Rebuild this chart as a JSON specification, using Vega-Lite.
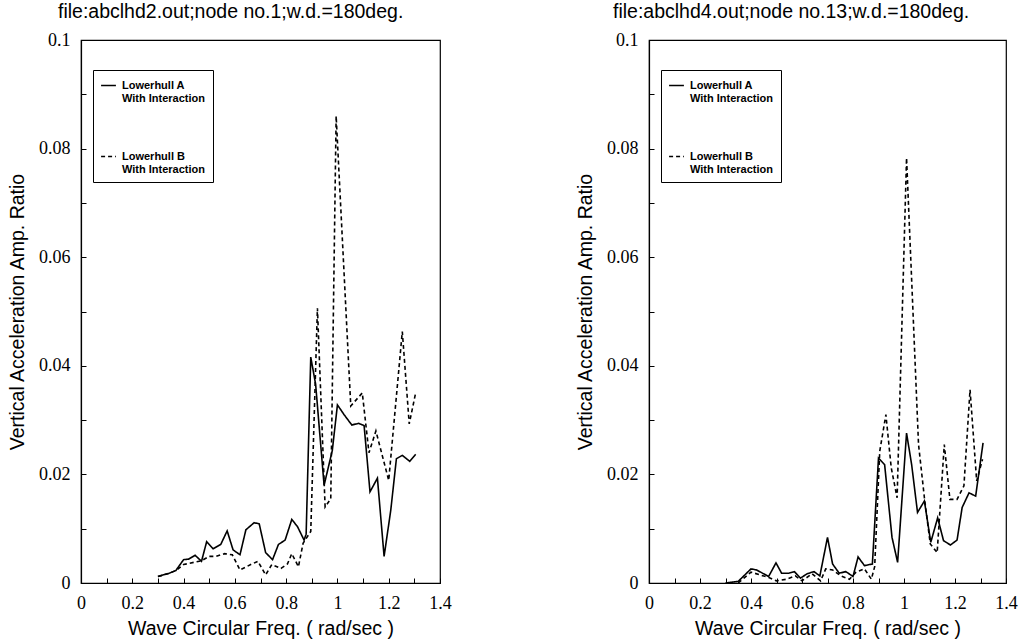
{
  "$schema": "https://vega.github.io/schema/vega-lite/v6.json",
  "padding": {"left": 6, "top": 0, "right": 2, "bottom": 2},
  "spacing": 122,
  "background": "white",
  "config": {
    "view": {"stroke": "black", "strokeWidth": 1.2},
    "legend": {
      "orient": "none",
      "legendX": 12,
      "legendY": 30,
      "strokeColor": "black",
      "strokeWidth": 1,
      "fillColor": "white",
      "padding": 7,
      "symbolType": "stroke",
      "symbolStrokeColor": "black",
      "symbolStrokeWidth": 1.3,
      "symbolSize": 220,
      "labelFont": "Liberation Sans",
      "labelFontSize": 11,
      "labelFontWeight": "bold",
      "labelColor": "black",
      "labelLimit": 200,
      "labelOffset": 5,
      "rowPadding": 44
    }
  },
  "resolve": {"scale": {"x": "independent", "y": "independent", "strokeDash": "independent"}, "legend": {"strokeDash": "independent"}},
  "hconcat": [
    {
      "width": 359,
      "height": 543,
      "title": {"text": "file:abclhd2.out;node no.1;w.d.=180deg.", "frame": "group", "anchor": "start", "dx": -23, "offset": 9, "font": "Liberation Sans", "fontSize": 19.5, "fontWeight": "normal", "color": "black"},
      "data": {"values": [
        {"x": 0.30, "y": 0.0012, "series": "A"},
        {"x": 0.344, "y": 0.0018, "series": "A"},
        {"x": 0.37, "y": 0.0023, "series": "A"},
        {"x": 0.40, "y": 0.0043, "series": "A"},
        {"x": 0.42, "y": 0.0044, "series": "A"},
        {"x": 0.445, "y": 0.0051, "series": "A"},
        {"x": 0.47, "y": 0.0040, "series": "A"},
        {"x": 0.49, "y": 0.0076, "series": "A"},
        {"x": 0.515, "y": 0.0063, "series": "A"},
        {"x": 0.545, "y": 0.0071, "series": "A"},
        {"x": 0.57, "y": 0.0096, "series": "A"},
        {"x": 0.593, "y": 0.0061, "series": "A"},
        {"x": 0.62, "y": 0.0052, "series": "A"},
        {"x": 0.643, "y": 0.0098, "series": "A"},
        {"x": 0.675, "y": 0.0111, "series": "A"},
        {"x": 0.695, "y": 0.0109, "series": "A"},
        {"x": 0.72, "y": 0.0056, "series": "A"},
        {"x": 0.747, "y": 0.0043, "series": "A"},
        {"x": 0.77, "y": 0.0071, "series": "A"},
        {"x": 0.796, "y": 0.0079, "series": "A"},
        {"x": 0.822, "y": 0.0117, "series": "A"},
        {"x": 0.844, "y": 0.0104, "series": "A"},
        {"x": 0.87, "y": 0.0079, "series": "A"},
        {"x": 0.878, "y": 0.0090, "series": "A"},
        {"x": 0.896, "y": 0.0416, "series": "A"},
        {"x": 0.915, "y": 0.0366, "series": "A"},
        {"x": 0.948, "y": 0.0180, "series": "A"},
        {"x": 0.98, "y": 0.0244, "series": "A"},
        {"x": 1.0, "y": 0.0328, "series": "A"},
        {"x": 1.026, "y": 0.0310, "series": "A"},
        {"x": 1.056, "y": 0.0291, "series": "A"},
        {"x": 1.082, "y": 0.0294, "series": "A"},
        {"x": 1.104, "y": 0.0290, "series": "A"},
        {"x": 1.127, "y": 0.0168, "series": "A"},
        {"x": 1.156, "y": 0.0193, "series": "A"},
        {"x": 1.182, "y": 0.0049, "series": "A"},
        {"x": 1.208, "y": 0.0134, "series": "A"},
        {"x": 1.23, "y": 0.0229, "series": "A"},
        {"x": 1.253, "y": 0.0235, "series": "A"},
        {"x": 1.282, "y": 0.0224, "series": "A"},
        {"x": 1.305, "y": 0.0237, "series": "A"},
        {"x": 0.30, "y": 0.0012, "series": "B"},
        {"x": 0.344, "y": 0.0018, "series": "B"},
        {"x": 0.37, "y": 0.0023, "series": "B"},
        {"x": 0.40, "y": 0.0034, "series": "B"},
        {"x": 0.44, "y": 0.0038, "series": "B"},
        {"x": 0.47, "y": 0.0041, "series": "B"},
        {"x": 0.50, "y": 0.0049, "series": "B"},
        {"x": 0.526, "y": 0.0049, "series": "B"},
        {"x": 0.56, "y": 0.0054, "series": "B"},
        {"x": 0.59, "y": 0.0052, "series": "B"},
        {"x": 0.62, "y": 0.0024, "series": "B"},
        {"x": 0.662, "y": 0.0034, "series": "B"},
        {"x": 0.69, "y": 0.0040, "series": "B"},
        {"x": 0.72, "y": 0.0015, "series": "B"},
        {"x": 0.744, "y": 0.0034, "series": "B"},
        {"x": 0.78, "y": 0.0027, "series": "B"},
        {"x": 0.805, "y": 0.0035, "series": "B"},
        {"x": 0.822, "y": 0.0054, "series": "B"},
        {"x": 0.848, "y": 0.0030, "series": "B"},
        {"x": 0.866, "y": 0.0073, "series": "B"},
        {"x": 0.896, "y": 0.0095, "series": "B"},
        {"x": 0.922, "y": 0.0506, "series": "B"},
        {"x": 0.952, "y": 0.0140, "series": "B"},
        {"x": 0.974, "y": 0.0155, "series": "B"},
        {"x": 0.995, "y": 0.0860, "series": "B"},
        {"x": 1.052, "y": 0.0326, "series": "B"},
        {"x": 1.097, "y": 0.0350, "series": "B"},
        {"x": 1.123, "y": 0.0240, "series": "B"},
        {"x": 1.15, "y": 0.0280, "series": "B"},
        {"x": 1.20, "y": 0.0189, "series": "B"},
        {"x": 1.253, "y": 0.0463, "series": "B"},
        {"x": 1.28, "y": 0.0293, "series": "B"},
        {"x": 1.305, "y": 0.0350, "series": "B"}
      ]},
      "mark": {"type": "line", "color": "black", "strokeWidth": 1.6},
      "encoding": {
        "x": {"field": "x", "type": "quantitative", "scale": {"domain": [0, 1.4], "nice": false},
          "axis": {"title": "Wave Circular Freq. ( rad/sec )", "values": [0, 0.1, 0.2, 0.3, 0.4, 0.5, 0.6, 0.7, 0.8, 0.9, 1, 1.1, 1.2, 1.3, 1.4], "format": "~g", "labelExpr": "round(datum.value*10) % 2 == 0 ? datum.label : ''",
            "grid": false, "domainColor": "black", "domainWidth": 1.2, "tickColor": "black", "tickSize": -5, "labelFont": "Liberation Serif", "labelFontSize": 18, "labelColor": "black", "labelFlush": false, "labelOverlap": false, "labelBound": false, "labelPadding": 16, "titleFont": "Liberation Sans", "titleFontSize": 19.5, "titleFontWeight": "normal", "titleColor": "black", "titlePadding": 7}},
        "y": {"field": "y", "type": "quantitative", "scale": {"domain": [0, 0.1], "nice": false},
          "axis": {"title": "Vertical Acceleration Amp. Ratio", "values": [0, 0.01, 0.02, 0.03, 0.04, 0.05, 0.06, 0.07, 0.08, 0.09, 0.1], "format": "~g", "labelExpr": "round(datum.value*100) % 2 == 0 ? datum.label : ''",
            "grid": false, "domainColor": "black", "domainWidth": 1.2, "tickColor": "black", "tickSize": -5, "labelFont": "Liberation Serif", "labelFontSize": 18, "labelColor": "black", "labelFlush": false, "labelOverlap": false, "labelBound": false, "labelPadding": 16, "titleFont": "Liberation Sans", "titleFontSize": 19.5, "titleFontWeight": "normal", "titleColor": "black", "titlePadding": 11}},
        "strokeDash": {"field": "series", "type": "nominal", "scale": {"domain": ["A", "B"], "range": [[1, 0], [4, 3]]},
          "legend": {"title": null, "labelExpr": "datum.value == 'A' ? ['Lowerhull A', 'With Interaction'] : ['Lowerhull B', 'With Interaction']"}}
      }
    },
    {
      "width": 357,
      "height": 543,
      "title": {"text": "file:abclhd4.out;node no.13;w.d.=180deg.", "frame": "group", "anchor": "start", "dx": -36, "offset": 9, "font": "Liberation Sans", "fontSize": 19.5, "fontWeight": "normal", "color": "black"},
      "data": {"values": [
        {"x": 0.30, "y": 0.0, "series": "A"},
        {"x": 0.35, "y": 0.0003, "series": "A"},
        {"x": 0.40, "y": 0.0026, "series": "A"},
        {"x": 0.422, "y": 0.0024, "series": "A"},
        {"x": 0.469, "y": 0.0012, "series": "A"},
        {"x": 0.498, "y": 0.0037, "series": "A"},
        {"x": 0.52, "y": 0.0018, "series": "A"},
        {"x": 0.548, "y": 0.0018, "series": "A"},
        {"x": 0.57, "y": 0.0021, "series": "A"},
        {"x": 0.594, "y": 0.0009, "series": "A"},
        {"x": 0.62, "y": 0.0017, "series": "A"},
        {"x": 0.647, "y": 0.0021, "series": "A"},
        {"x": 0.67, "y": 0.0013, "series": "A"},
        {"x": 0.70, "y": 0.0084, "series": "A"},
        {"x": 0.72, "y": 0.0035, "series": "A"},
        {"x": 0.746, "y": 0.0018, "series": "A"},
        {"x": 0.772, "y": 0.0021, "series": "A"},
        {"x": 0.80, "y": 0.0012, "series": "A"},
        {"x": 0.82, "y": 0.0048, "series": "A"},
        {"x": 0.845, "y": 0.0032, "series": "A"},
        {"x": 0.876, "y": 0.0035, "series": "A"},
        {"x": 0.90, "y": 0.0230, "series": "A"},
        {"x": 0.924, "y": 0.0218, "series": "A"},
        {"x": 0.953, "y": 0.0084, "series": "A"},
        {"x": 0.975, "y": 0.0038, "series": "A"},
        {"x": 1.01, "y": 0.0276, "series": "A"},
        {"x": 1.03, "y": 0.0218, "series": "A"},
        {"x": 1.053, "y": 0.0130, "series": "A"},
        {"x": 1.08, "y": 0.0151, "series": "A"},
        {"x": 1.105, "y": 0.0075, "series": "A"},
        {"x": 1.132, "y": 0.0120, "series": "A"},
        {"x": 1.155, "y": 0.0078, "series": "A"},
        {"x": 1.182, "y": 0.0070, "series": "A"},
        {"x": 1.208, "y": 0.0079, "series": "A"},
        {"x": 1.228, "y": 0.0139, "series": "A"},
        {"x": 1.255, "y": 0.0166, "series": "A"},
        {"x": 1.281, "y": 0.0160, "series": "A"},
        {"x": 1.31, "y": 0.0258, "series": "A"},
        {"x": 0.35, "y": 0.0, "series": "B"},
        {"x": 0.40, "y": 0.0020, "series": "B"},
        {"x": 0.47, "y": 0.0010, "series": "B"},
        {"x": 0.50, "y": 0.0004, "series": "B"},
        {"x": 0.54, "y": 0.0007, "series": "B"},
        {"x": 0.574, "y": 0.0013, "series": "B"},
        {"x": 0.60, "y": 0.0004, "series": "B"},
        {"x": 0.64, "y": 0.0017, "series": "B"},
        {"x": 0.673, "y": 0.0004, "series": "B"},
        {"x": 0.693, "y": 0.0026, "series": "B"},
        {"x": 0.72, "y": 0.0024, "series": "B"},
        {"x": 0.753, "y": 0.0013, "series": "B"},
        {"x": 0.786, "y": 0.0007, "series": "B"},
        {"x": 0.812, "y": 0.0020, "series": "B"},
        {"x": 0.845, "y": 0.0026, "series": "B"},
        {"x": 0.872, "y": 0.0007, "series": "B"},
        {"x": 0.885, "y": 0.0030, "series": "B"},
        {"x": 0.905, "y": 0.0243, "series": "B"},
        {"x": 0.929, "y": 0.0310, "series": "B"},
        {"x": 0.95, "y": 0.0212, "series": "B"},
        {"x": 0.973, "y": 0.0157, "series": "B"},
        {"x": 1.01, "y": 0.0783, "series": "B"},
        {"x": 1.057, "y": 0.0255, "series": "B"},
        {"x": 1.08, "y": 0.0157, "series": "B"},
        {"x": 1.103, "y": 0.0072, "series": "B"},
        {"x": 1.13, "y": 0.0056, "series": "B"},
        {"x": 1.158, "y": 0.0255, "series": "B"},
        {"x": 1.18, "y": 0.0154, "series": "B"},
        {"x": 1.208, "y": 0.0154, "series": "B"},
        {"x": 1.235, "y": 0.0179, "series": "B"},
        {"x": 1.259, "y": 0.0356, "series": "B"},
        {"x": 1.285, "y": 0.0188, "series": "B"},
        {"x": 1.308, "y": 0.0228, "series": "B"}
      ]},
      "mark": {"type": "line", "color": "black", "strokeWidth": 1.6},
      "encoding": {
        "x": {"field": "x", "type": "quantitative", "scale": {"domain": [0, 1.4], "nice": false},
          "axis": {"title": "Wave Circular Freq. ( rad/sec )", "values": [0, 0.1, 0.2, 0.3, 0.4, 0.5, 0.6, 0.7, 0.8, 0.9, 1, 1.1, 1.2, 1.3, 1.4], "format": "~g", "labelExpr": "round(datum.value*10) % 2 == 0 ? datum.label : ''",
            "grid": false, "domainColor": "black", "domainWidth": 1.2, "tickColor": "black", "tickSize": -5, "labelFont": "Liberation Serif", "labelFontSize": 18, "labelColor": "black", "labelFlush": false, "labelOverlap": false, "labelBound": false, "labelPadding": 16, "titleFont": "Liberation Sans", "titleFontSize": 19.5, "titleFontWeight": "normal", "titleColor": "black", "titlePadding": 7}},
        "y": {"field": "y", "type": "quantitative", "scale": {"domain": [0, 0.1], "nice": false},
          "axis": {"title": "Vertical Acceleration Amp. Ratio", "values": [0, 0.01, 0.02, 0.03, 0.04, 0.05, 0.06, 0.07, 0.08, 0.09, 0.1], "format": "~g", "labelExpr": "round(datum.value*100) % 2 == 0 ? datum.label : ''",
            "grid": false, "domainColor": "black", "domainWidth": 1.2, "tickColor": "black", "tickSize": -5, "labelFont": "Liberation Serif", "labelFontSize": 18, "labelColor": "black", "labelFlush": false, "labelOverlap": false, "labelBound": false, "labelPadding": 16, "titleFont": "Liberation Sans", "titleFontSize": 19.5, "titleFontWeight": "normal", "titleColor": "black", "titlePadding": 11}},
        "strokeDash": {"field": "series", "type": "nominal", "scale": {"domain": ["A", "B"], "range": [[1, 0], [4, 3]]},
          "legend": {"title": null, "labelExpr": "datum.value == 'A' ? ['Lowerhull A', 'With Interaction'] : ['Lowerhull B', 'With Interaction']"}}
      }
    }
  ]
}
